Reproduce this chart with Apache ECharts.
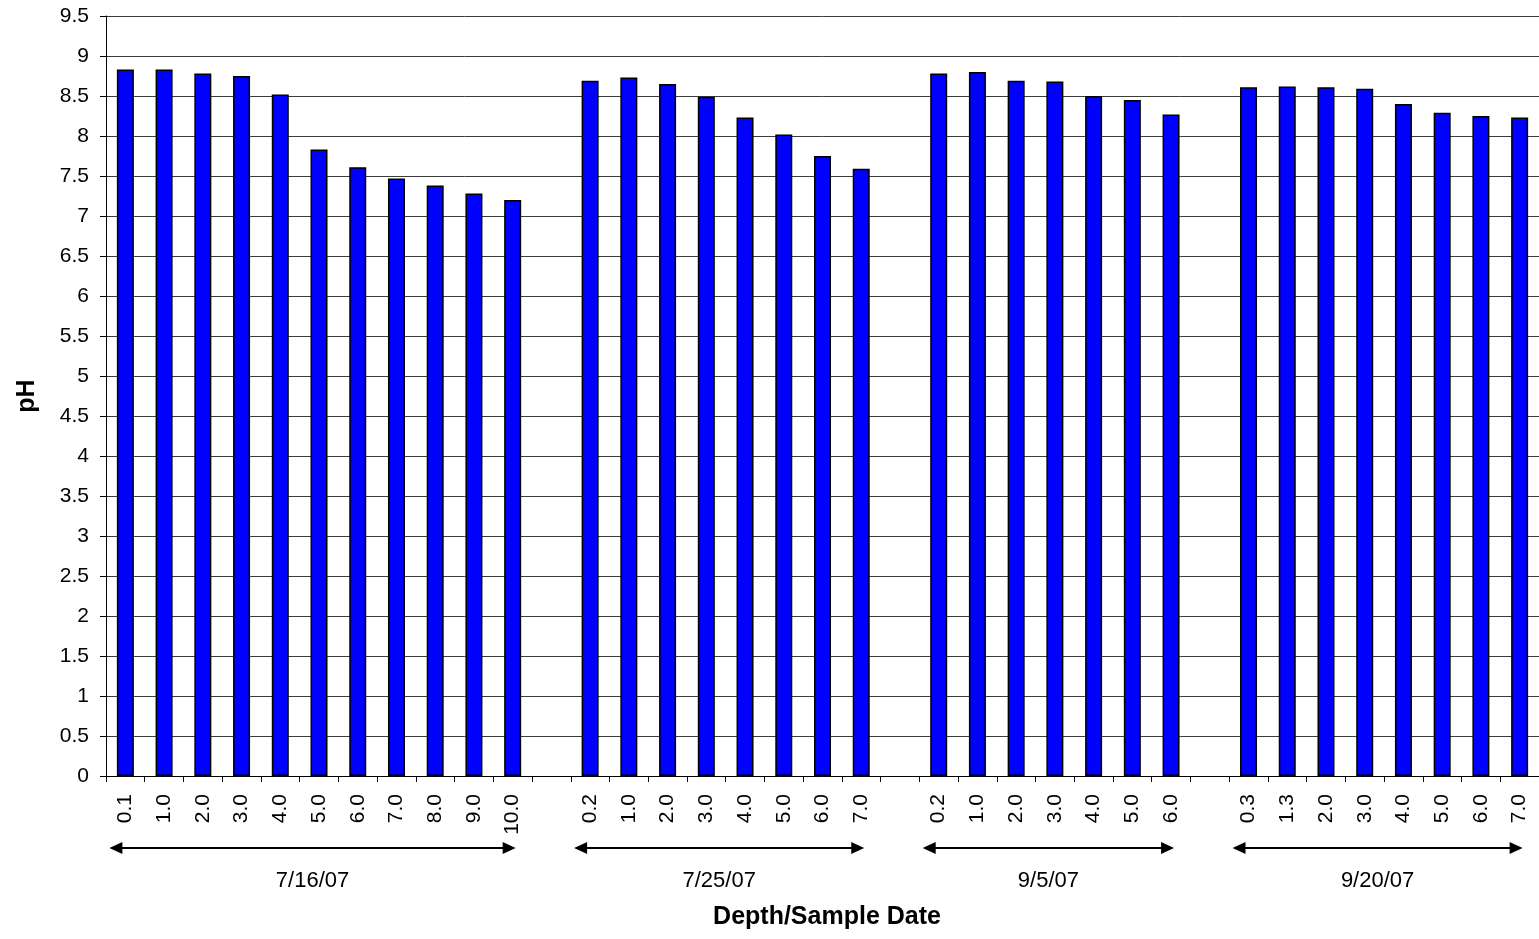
<!DOCTYPE html>
<html>
<head>
<meta charset="utf-8">
<title>pH by depth and sample date</title>
<script src="https://cdn.jsdelivr.net/npm/echarts@6/dist/echarts.min.js"></script>
<style>
  html, body { margin: 0; padding: 0; background: #fff; }
  #chart { width: 1539px; height: 939px; }
</style>
</head>
<body>
<div id="chart"></div>
<script>
// depth (m) labels and pH readings, one pair per sample date
var depths0716 = ['0.1', '1.0', '2.0', '3.0', '4.0', '5.0', '6.0', '7.0', '8.0', '9.0', '10.0']
var ph0716 = [8.83, 8.83, 8.78, 8.75, 8.52, 7.83, 7.61, 7.47, 7.38, 7.28, 7.20]

var depths0725 = ['0.2', '1.0', '2.0', '3.0', '4.0', '5.0', '6.0', '7.0']
var ph0725 = [8.69, 8.73, 8.65, 8.49, 8.23, 8.02, 7.75, 7.59]

var depths0905 = ['0.2', '1.0', '2.0', '3.0', '4.0', '5.0', '6.0']
var ph0905 = [8.78, 8.80, 8.69, 8.68, 8.50, 8.45, 8.27]

var depths0920 = ['0.3', '1.3', '2.0', '3.0', '4.0', '5.0', '6.0', '7.0']
var ph0920 = [8.61, 8.62, 8.61, 8.59, 8.40, 8.29, 8.25, 8.23]

var sampleDates = ['7/16/07', '7/25/07', '9/5/07', '9/20/07']

var yMin = 0
var yMax = 9.5
var yStep = 0.5

var FONT = "'Liberation Sans', Arial, sans-serif"

// build one category axis with an empty slot between dates
var groups = [
  { depths: depths0716, values: ph0716 },
  { depths: depths0725, values: ph0725 },
  { depths: depths0905, values: ph0905 },
  { depths: depths0920, values: ph0920 }
]
var categories = []
var values = []
var spans = [] // first / last category index of every date
groups.forEach(function (g, i) {
  if (i > 0) {
    categories.push('')
    values.push(null)
  }
  var start = categories.length
  categories = categories.concat(g.depths)
  values = values.concat(g.values)
  spans.push([start, categories.length - 1])
})

var chart = echarts.init(document.getElementById('chart'), null, { renderer: 'canvas' })

chart.setOption({
  animation: false,
  grid: {
    left: 106,
    top: 16,
    width: 1442,
    bottom: 163
  },
  xAxis: {
    type: 'category',
    data: categories,
    boundaryGap: true,
    axisLine: { lineStyle: { color: '#000', width: 1 } },
    axisTick: { show: true, interval: 0, length: 6, lineStyle: { color: '#000' } },
    axisLabel: {
      interval: 0,
      rotate: 90,
      margin: 18,
      color: '#000',
      fontSize: 21,
      fontFamily: FONT
    },
    splitLine: { show: false }
  },
  yAxis: {
    type: 'value',
    min: yMin,
    max: yMax,
    interval: yStep,
    axisLine: { show: true, lineStyle: { color: '#000', width: 1 } },
    axisTick: { show: true, length: 6, lineStyle: { color: '#000' } },
    axisLabel: {
      margin: 17,
      color: '#000',
      fontSize: 21,
      fontFamily: FONT
    },
    splitLine: { show: true, lineStyle: { color: '#3c3c3c', width: 1 } }
  },
  series: [{
    type: 'bar',
    data: values,
    barWidth: 17,
    itemStyle: {
      color: '#0000ff',
      borderColor: '#000',
      borderWidth: 1.5
    }
  }]
})

// date arrows + axis titles, placed from the category scale
var arrowY = 848
var graphics = []
spans.forEach(function (s, i) {
  var x0 = chart.convertToPixel({ xAxisIndex: 0 }, s[0]) - 16
  var x1 = chart.convertToPixel({ xAxisIndex: 0 }, s[1]) + 3
  graphics.push({
    type: 'line',
    shape: { x1: x0 + 8, y1: arrowY, x2: x1 - 8, y2: arrowY },
    style: { stroke: '#000', lineWidth: 2 }
  })
  graphics.push({
    type: 'polygon',
    shape: { points: [[x0, arrowY], [x0 + 13, arrowY - 6], [x0 + 13, arrowY + 6]] },
    style: { fill: '#000' }
  })
  graphics.push({
    type: 'polygon',
    shape: { points: [[x1, arrowY], [x1 - 13, arrowY - 6], [x1 - 13, arrowY + 6]] },
    style: { fill: '#000' }
  })
  graphics.push({
    type: 'text',
    x: (x0 + x1) / 2,
    y: 881,
    style: {
      text: sampleDates[i],
      fill: '#000',
      font: '22px ' + FONT,
      textAlign: 'center',
      textVerticalAlign: 'middle'
    }
  })
})

graphics.push({
  type: 'text',
  x: 827,
  y: 917,
  style: {
    text: 'Depth/Sample Date',
    fill: '#000',
    font: 'bold 25px ' + FONT,
    textAlign: 'center',
    textVerticalAlign: 'middle'
  }
})
graphics.push({
  type: 'text',
  x: 27,
  y: 396,
  rotation: Math.PI / 2,
  style: {
    text: 'pH',
    fill: '#000',
    font: 'bold 25px ' + FONT,
    textAlign: 'center',
    textVerticalAlign: 'middle'
  }
})

chart.setOption({ graphic: graphics })
</script>
</body>
</html>
